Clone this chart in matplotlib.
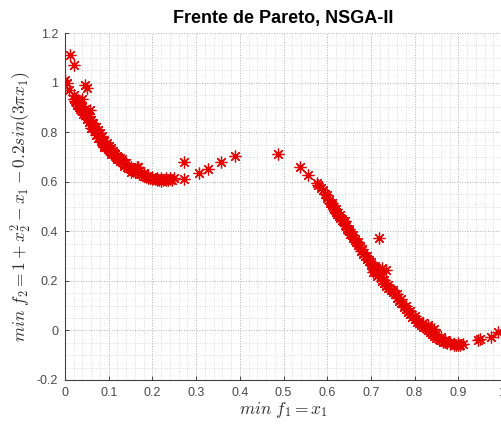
import numpy as np
import matplotlib
matplotlib.use("Agg")
import matplotlib.pyplot as plt
from matplotlib.ticker import MultipleLocator

plt.rcParams["mathtext.fontset"] = "cm"
plt.rcParams["font.family"] = ["Liberation Sans", "DejaVu Sans"]

# left branch of the front
f1_left = [0.02, 0.022, 0.025, 0.028, 0.03, 0.032, 0.034, 0.036, 0.038, 0.04,
           0.042, 0.045, 0.047, 0.05, 0.052, 0.055, 0.057, 0.06, 0.062, 0.065,
           0.068, 0.07, 0.072, 0.075, 0.078, 0.08, 0.083, 0.085, 0.088, 0.09,
           0.093, 0.096, 0.1, 0.103, 0.106, 0.11, 0.113, 0.116, 0.12, 0.123,
           0.126, 0.13, 0.134, 0.138, 0.142, 0.146, 0.15, 0.155, 0.16, 0.165,
           0.17, 0.175, 0.18, 0.185, 0.19, 0.195, 0.2, 0.205, 0.21, 0.215,
           0.22, 0.225, 0.23, 0.235, 0.24, 0.245]
f2_left = [0.935, 0.925, 0.92, 0.91, 0.915, 0.9, 0.895, 0.905, 0.885, 0.89,
           0.875, 0.87, 0.88, 0.855, 0.86, 0.84, 0.85, 0.83, 0.835, 0.815,
           0.81, 0.805, 0.79, 0.795, 0.775, 0.78, 0.765, 0.76, 0.755, 0.75,
           0.74, 0.745, 0.73, 0.725, 0.72, 0.71, 0.715, 0.7, 0.695, 0.69,
           0.685, 0.68, 0.67, 0.675, 0.66, 0.655, 0.65, 0.645, 0.64, 0.66,
           0.632, 0.63, 0.622, 0.62, 0.615, 0.613, 0.61, 0.612, 0.606, 0.607,
           0.604, 0.608, 0.605, 0.606, 0.61, 0.607]

# second layer of the left band (points a little off the curve)
f1_left2 = [0.03, 0.035, 0.04, 0.045, 0.05, 0.055, 0.06, 0.065, 0.07, 0.075,
            0.08, 0.085, 0.09, 0.095, 0.1, 0.105, 0.11, 0.115, 0.12, 0.125,
            0.13, 0.14, 0.15, 0.16, 0.17, 0.18, 0.19, 0.2, 0.21, 0.22,
            0.23, 0.24, 0.25, 0.06, 0.075, 0.09, 0.105, 0.12, 0.135, 0.15]
f2_left2 = [0.93, 0.92, 0.9, 0.895, 0.875, 0.865, 0.85, 0.835, 0.82, 0.81,
            0.795, 0.785, 0.765, 0.755, 0.745, 0.735, 0.725, 0.71, 0.705, 0.695,
            0.69, 0.675, 0.66, 0.65, 0.645, 0.635, 0.625, 0.62, 0.616, 0.615,
            0.614, 0.616, 0.616, 0.815, 0.775, 0.74, 0.71, 0.69, 0.665, 0.64]

# right branch
f1_right = [0.58, 0.585, 0.59, 0.595, 0.6, 0.603, 0.606, 0.61, 0.613, 0.616,
            0.62, 0.623, 0.626, 0.63, 0.633, 0.636, 0.64, 0.643, 0.646, 0.65,
            0.653, 0.656, 0.66, 0.663, 0.666, 0.67, 0.674, 0.678, 0.682, 0.686,
            0.69, 0.695, 0.7, 0.705, 0.708, 0.71, 0.712, 0.715, 0.717, 0.72,
            0.722, 0.725, 0.728, 0.73, 0.735, 0.74, 0.745, 0.75, 0.755, 0.76,
            0.765, 0.77, 0.775, 0.78, 0.785, 0.79, 0.795, 0.8, 0.805, 0.81,
            0.815, 0.82, 0.825, 0.83, 0.835, 0.84, 0.845, 0.85, 0.855, 0.86,
            0.865, 0.87, 0.875, 0.88, 0.89, 0.895, 0.9, 0.905, 0.91, 0.945,
            0.95, 0.975, 0.99]
f2_right = [0.585, 0.575, 0.565, 0.55, 0.535, 0.525, 0.515, 0.505, 0.5, 0.49,
            0.478, 0.47, 0.46, 0.455, 0.445, 0.44, 0.425, 0.42, 0.41, 0.4,
            0.39, 0.385, 0.372, 0.365, 0.355, 0.345, 0.335, 0.32, 0.31, 0.3,
            0.29, 0.28, 0.265, 0.255, 0.245, 0.25, 0.235, 0.24, 0.225, 0.23,
            0.215, 0.2, 0.205, 0.19, 0.18, 0.17, 0.165, 0.155, 0.145, 0.13,
            0.12, 0.11, 0.095, 0.085, 0.075, 0.065, 0.055, 0.045, 0.035, 0.028,
            0.02, 0.014, 0.008, 0.002, -0.008, -0.015, -0.022, -0.03, -0.035, -0.04,
            -0.045, -0.048, -0.052, -0.054, -0.057, -0.058, -0.058, -0.06, -0.056, -0.038,
            -0.033, -0.026, -0.006]

# second layer of the right band
f1_right2 = [0.6, 0.61, 0.62, 0.63, 0.64, 0.65, 0.66, 0.67, 0.68, 0.69,
             0.7, 0.71, 0.72, 0.73, 0.74, 0.75, 0.76, 0.77, 0.78, 0.79,
             0.8, 0.81, 0.82, 0.83, 0.84, 0.85, 0.86, 0.87, 0.88, 0.9,
             0.715, 0.725, 0.705, 0.83, 0.845]
f2_right2 = [0.545, 0.515, 0.49, 0.465, 0.44, 0.41, 0.385, 0.355, 0.33, 0.3,
             0.275, 0.26, 0.245, 0.205, 0.185, 0.165, 0.145, 0.125, 0.1, 0.08,
             0.06, 0.04, 0.028, 0.015, 0.0, -0.015, -0.028, -0.038, -0.045, -0.05,
             0.22, 0.25, 0.235, 0.02, 0.005]

# scattered points off the main bands
f1_extra = [0.012, 0.021, 0.0, 0.004, 0.01, 0.046, 0.05, 0.04, 0.058, 0.02,
            0.272, 0.273, 0.307, 0.327, 0.356, 0.388, 0.487, 0.537, 0.556, 0.577,
            0.718, 0.735, 0.166]
f2_extra = [1.113, 1.069, 1.012, 1.0, 0.972, 0.99, 0.98, 0.935, 0.89, 0.95,
            0.612, 0.681, 0.636, 0.653, 0.681, 0.705, 0.713, 0.66, 0.628, 0.596,
            0.374, 0.245, 0.66]

f1 = np.array(f1_left + f1_left2 + f1_right + f1_right2 + f1_extra)
f2 = np.array(f2_left + f2_left2 + f2_right + f2_right2 + f2_extra)

x_ticks = [0, 0.1, 0.2, 0.3, 0.4, 0.5, 0.6, 0.7, 0.8, 0.9, 1.0]
x_labels = ["0", "0.1", "0.2", "0.3", "0.4", "0.5", "0.6", "0.7", "0.8", "0.9", "1"]
y_ticks = [-0.2, 0, 0.2, 0.4, 0.6, 0.8, 1.0, 1.2]
y_labels = ["-0.2", "0", "0.2", "0.4", "0.6", "0.8", "1", "1.2"]

fig = plt.figure(figsize=(5.01, 4.26), dpi=100)
ax = fig.add_axes([65 / 501, 46 / 426, 437 / 501, 347 / 426])

ax.plot(f1, f2, linestyle="none", marker=(8, 2, 0), color="#e60000",
        markersize=8.5, markeredgewidth=0.9)

ax.set_xlim(0, 1)
ax.set_ylim(-0.2, 1.2)
ax.set_xticks(x_ticks)
ax.set_xticklabels(x_labels)
ax.set_yticks(y_ticks)
ax.set_yticklabels(y_labels)
ax.xaxis.set_minor_locator(MultipleLocator(0.02))
ax.yaxis.set_minor_locator(MultipleLocator(0.05))

ax.grid(True, which="major", linestyle=":", color="#b0b0b0", linewidth=0.7)
ax.grid(True, which="minor", linestyle=":", color="#d4d4d4", linewidth=0.6)
ax.set_axisbelow(True)

for s in ["top", "right"]:
    ax.spines[s].set_visible(False)
for s in ["left", "bottom"]:
    ax.spines[s].set_color("#404040")
    ax.spines[s].set_linewidth(0.8)

ax.tick_params(which="major", direction="in", length=3, width=0.7,
               colors="#404040", labelsize=9, labelcolor="#4a4a4a", pad=5)
ax.tick_params(which="minor", length=0)

ax.set_title("Frente de Pareto, NSGA-II", fontweight="bold", fontsize=13, pad=7)
ax.set_xlabel(r"$min\ f_1 = x_1$", fontsize=12.5, labelpad=1, color="#303030")
ax.set_ylabel(r"$min\ f_2 = 1 + x_2^2 - x_1 - 0.2sin(3\pi x_1)$", fontsize=12.5,
              labelpad=3, color="#303030")

fig.savefig("out.png", dpi=100, facecolor="white")
